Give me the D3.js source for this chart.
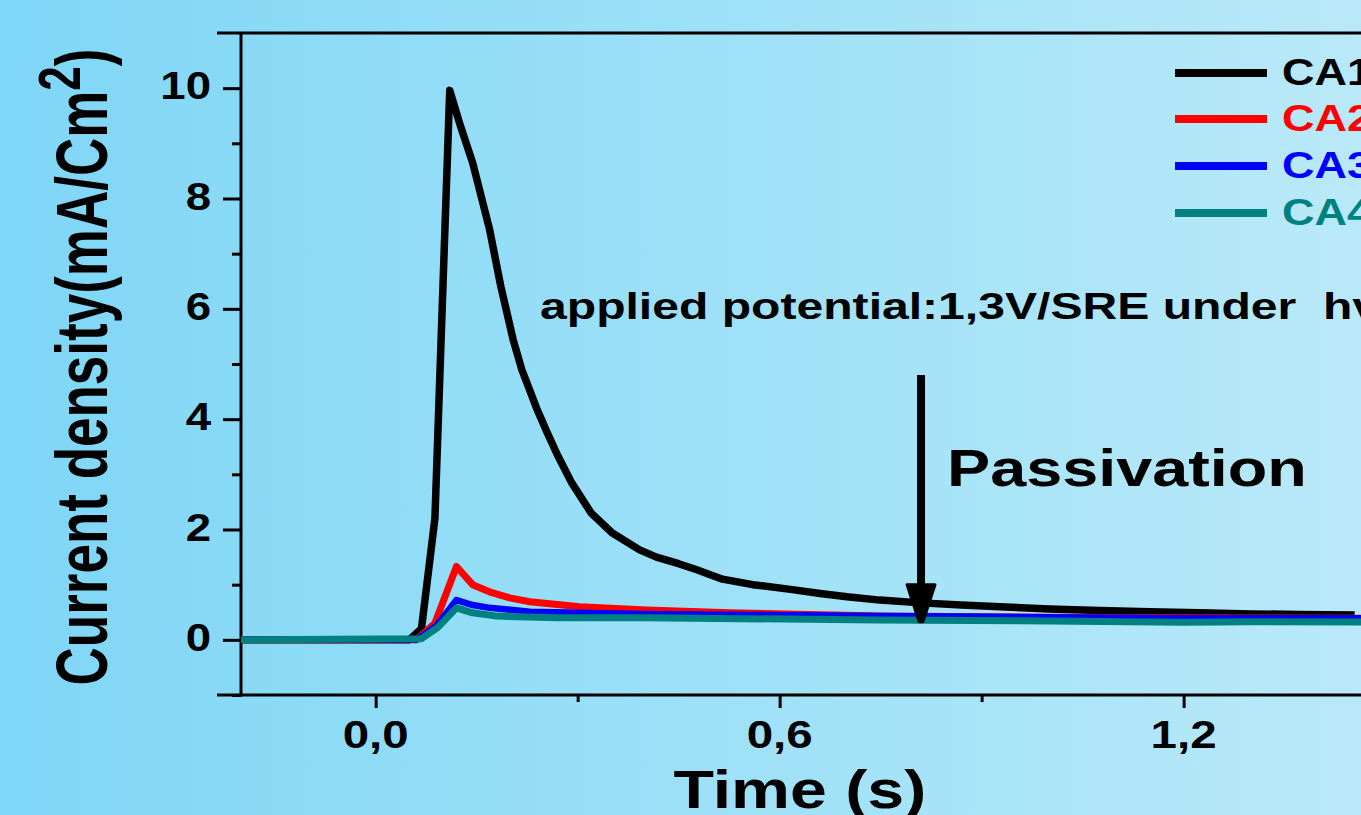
<!DOCTYPE html>
<html>
<head>
<meta charset="utf-8">
<script src="https://cdn.jsdelivr.net/npm/d3@7"></script>
<style>
  html, body { margin: 0; padding: 0; overflow: hidden; }
  svg { display: block; }
  text { font-family: "Liberation Sans", Arial, sans-serif; font-weight: bold; white-space: pre; }
</style>
</head>
<body>
<svg id="chart" width="1361" height="815"></svg>
<script>
// ---------- data ----------
const seriesNames = ["CA1", "CA2", "CA3", "CA4"];
const seriesColors = ["#000000", "#ff0000", "#0000ff", "#008080"];

const ca1Time = [-0.2, 0.05, 0.068, 0.088, 0.110, 0.125, 0.144, 0.169, 0.186, 0.204, 0.217, 0.239, 0.255, 0.27, 0.291, 0.32, 0.351, 0.392, 0.417, 0.45, 0.477, 0.515, 0.56, 0.619, 0.66, 0.70, 0.749, 0.81, 0.87, 0.927, 1.0, 1.075, 1.15, 1.224, 1.30, 1.372, 1.454];
const ca1Value = [0, 0, 0.2, 2.2, 9.96, 9.35, 8.65, 7.45, 6.4, 5.45, 4.9, 4.2, 3.75, 3.35, 2.85, 2.3, 1.94, 1.63, 1.50, 1.38, 1.27, 1.10, 1.0, 0.91, 0.84, 0.78, 0.72, 0.67, 0.63, 0.60, 0.56, 0.53, 0.51, 0.49, 0.47, 0.46, 0.45];

const ca2Time = [-0.2, 0.06, 0.088, 0.120, 0.144, 0.169, 0.199, 0.229, 0.303, 0.402, 0.526, 0.749, 1.0, 1.2, 1.5];
const ca2Value = [0, 0, 0.3, 1.33, 1.0, 0.87, 0.76, 0.69, 0.60, 0.54, 0.49, 0.43, 0.41, 0.40, 0.39];

const ca3Time = [-0.2, 0.06, 0.09, 0.120, 0.144, 0.169, 0.229, 0.303, 0.40, 0.749, 1.0, 1.2, 1.5];
const ca3Value = [0, 0, 0.25, 0.72, 0.63, 0.58, 0.51, 0.49, 0.47, 0.43, 0.41, 0.39, 0.39];

const ca4Time = [-0.2, 0.068, 0.092, 0.120, 0.144, 0.18, 0.269, 0.40, 0.749, 1.0, 1.2, 1.3, 1.5];
const ca4Value = [0, 0.02, 0.22, 0.58, 0.49, 0.43, 0.40, 0.40, 0.36, 0.34, 0.32, 0.33, 0.32];

const xMajorTicks = [0, 0.6, 1.2];
const xTickLabels = ["0,0", "0,6", "1,2"];
const xMinorTicks = [0.3, 0.9, 1.5];
const yMajorTicks = [0, 2, 4, 6, 8, 10];
const yTickLabels = ["0", "2", "4", "6", "8", "10"];
const yMinorTicks = [-1, 1, 3, 5, 7, 9];

const xTitle = "Time (s)";
const yTitle = "Current density(mA/Cm";
const ySup = "2";
const annoText = "applied potential:1,3V/SRE under  h\u03bd";
const passText = "Passivation";

// ---------- layout ----------
const W = 1361, H = 815;
const plotLeft = 241, plotTop = 33, plotBottom = 695;
const svg = d3.select("#chart");

const x = d3.scaleLinear().domain([-0.2, 1.6]).range([plotLeft, plotLeft + 673.3 * 1.8]);
const y = d3.scaleLinear().domain([-1, 11]).range([plotBottom, plotTop]);

// background gradient
const defs = svg.append("defs");
const grad = defs.append("linearGradient").attr("id", "bg").attr("x1", "0").attr("x2", "1").attr("y1", "0").attr("y2", "0");
grad.append("stop").attr("offset", "0%").attr("stop-color", "#7fd6f6");
grad.append("stop").attr("offset", "50%").attr("stop-color", "#9ce0f7");
grad.append("stop").attr("offset", "100%").attr("stop-color", "#b9e9f8");
svg.append("rect").attr("width", W).attr("height", H).attr("fill", "url(#bg)");

defs.append("clipPath").attr("id", "plotClip").append("rect")
  .attr("x", plotLeft).attr("y", plotTop).attr("width", W - plotLeft).attr("height", plotBottom - plotTop);

function addText(tx, ty, str, size, sx, anchor, color, rot) {
  const g = svg.append("g").attr("transform", `translate(${tx},${ty}) scale(${sx},1)` + (rot ? ` rotate(${rot})` : ""));
  return g.append("text").attr("x", 0).attr("y", 0).attr("xml:space", "preserve")
    .attr("font-size", size).attr("text-anchor", anchor).attr("fill", color || "#000").text(str);
}

// ---------- axes ----------
const axisColor = "#000";
const xAxisMajor = d3.axisBottom(x).tickValues(xMajorTicks).tickSize(13).tickFormat("");
const xAxisMinor = d3.axisBottom(x).tickValues(xMinorTicks).tickSize(7).tickFormat("");
[xAxisMajor, xAxisMinor].forEach(ax => {
  const g = svg.append("g").attr("transform", `translate(0,${plotBottom})`).call(ax);
  g.select(".domain").remove();
  g.selectAll("line").attr("stroke", axisColor).attr("stroke-width", 3);
});
const yAxisMajor = d3.axisLeft(y).tickValues(yMajorTicks).tickSize(18).tickFormat("");
const yAxisMinor = d3.axisLeft(y).tickValues(yMinorTicks).tickSize(9).tickFormat("");
[yAxisMajor, yAxisMinor].forEach(ax => {
  const g = svg.append("g").attr("transform", `translate(${plotLeft},0)`).call(ax);
  g.select(".domain").remove();
  g.selectAll("line").attr("stroke", axisColor).attr("stroke-width", 3);
});
svg.append("line").attr("x1", plotLeft - 24).attr("x2", W).attr("y1", plotBottom).attr("y2", plotBottom)
  .attr("stroke", axisColor).attr("stroke-width", 3);
svg.append("line").attr("x1", plotLeft - 24).attr("x2", W).attr("y1", plotTop).attr("y2", plotTop)
  .attr("stroke", axisColor).attr("stroke-width", 3);
svg.append("line").attr("x1", plotLeft).attr("x2", plotLeft).attr("y1", plotTop).attr("y2", plotBottom + 1.5)
  .attr("stroke", axisColor).attr("stroke-width", 3);

yMajorTicks.forEach((v, i) => addText(211, y(v) + 11, yTickLabels[i], 38, 1.2, "end"));
xMajorTicks.forEach((v, i) => addText(x(v), 748, xTickLabels[i], 38, 1.25, "middle"));

addText(x(0.63), 808, xTitle, 53, 1.25, "middle");
const yt = addText(107, 367, yTitle, 53, 1.35, "middle", "#000", -90);
yt.append("tspan").attr("font-size", 44).attr("dy", -20).text(ySup);
yt.append("tspan").attr("dy", 20).text(")");

// ---------- lines ----------
const seriesT = [ca1Time, ca2Time, ca3Time, ca4Time];
const seriesV = [ca1Value, ca2Value, ca3Value, ca4Value];
const widths = [7.5, 7, 6.5, 7];
const line = d3.line().x(d => x(d[0])).y(d => y(d[1])).curve(d3.curveLinear);
const plot = svg.append("g").attr("clip-path", "url(#plotClip)");
seriesNames.forEach((n, i) => {
  const pts = seriesT[i].map((t, j) => [t, seriesV[i][j]]);
  plot.append("path").datum(pts).attr("d", line)
    .attr("fill", "none").attr("stroke", seriesColors[i]).attr("stroke-width", widths[i])
    .attr("stroke-linejoin", "round").attr("stroke-linecap", "butt");
});

// ---------- legend ----------
const legY = [73, 119, 166, 213];
seriesNames.forEach((n, i) => {
  svg.append("line").attr("x1", 1175).attr("x2", 1267).attr("y1", legY[i]).attr("y2", legY[i])
    .attr("stroke", seriesColors[i]).attr("stroke-width", 8);
  addText(1282, legY[i] + 12, n, 36, 1.25, "start", seriesColors[i]);
});

// ---------- annotations ----------
addText(540, 319, annoText, 37, 1.3, "start");
addText(947, 486, passText, 52, 1.245, "start");

const ax0 = x(0.81);
svg.append("line").attr("x1", ax0).attr("x2", ax0).attr("y1", y(4.8)).attr("y2", y(0.95))
  .attr("stroke", "#000").attr("stroke-width", 8);
const tipY = y(0.33);
svg.append("path")
  .attr("d", `M${ax0 - 14},${tipY - 37} L${ax0 + 14},${tipY - 37} L${ax0 + 2},${tipY} L${ax0 - 2},${tipY} Z`)
  .attr("fill", "#000").attr("stroke", "#000").attr("stroke-width", 3).attr("stroke-linejoin", "round");
</script>
</body>
</html>
